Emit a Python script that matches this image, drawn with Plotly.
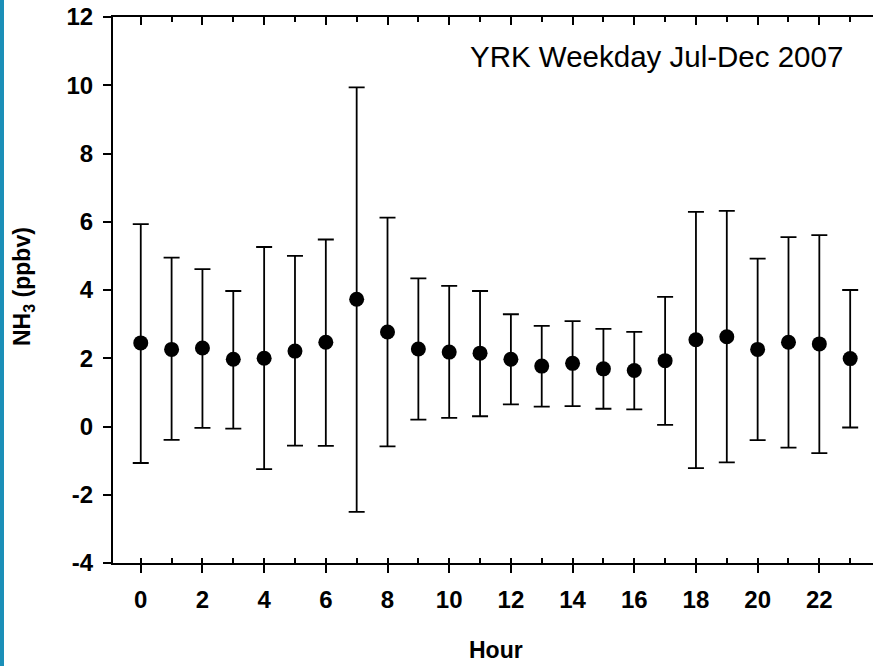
import plotly.graph_objects as go

hours = list(range(24))
nh3_mean = [2.45, 2.26, 2.30, 1.97, 2.00, 2.21, 2.47, 3.73, 2.77, 2.27, 2.18,
            2.15, 1.97, 1.77, 1.85, 1.69, 1.64, 1.93, 2.54, 2.63, 2.26, 2.47, 2.42, 1.99]
nh3_upper = [5.93, 4.95, 4.61, 3.97, 5.26, 5.00, 5.48, 9.94, 6.12, 4.34, 4.12,
             3.97, 3.29, 2.95, 3.09, 2.86, 2.77, 3.80, 6.29, 6.32, 4.92, 5.55, 5.61, 4.00]
nh3_lower = [-1.07, -0.39, -0.04, -0.06, -1.25, -0.56, -0.57, -2.50, -0.58, 0.20, 0.25,
             0.30, 0.65, 0.58, 0.60, 0.52, 0.50, 0.05, -1.22, -1.05, -0.40, -0.62, -0.78, -0.03]
y_ticks = [-4, -2, 0, 2, 4, 6, 8, 10, 12]
x_ticks = [0, 2, 4, 6, 8, 10, 12, 14, 16, 18, 20, 22]

err_plus = [u - m for u, m in zip(nh3_upper, nh3_mean)]
err_minus = [m - l for m, l in zip(nh3_mean, nh3_lower)]

FONT = "Liberation Sans, Arial, sans-serif"
L, T, B = 113, 17, 103
PW, PH = 873 - L, 666 - T - B

fig = go.Figure()
fig.add_trace(go.Scatter(
    x=hours, y=nh3_mean, mode="markers",
    marker=dict(color="black", size=15),
    error_y=dict(type="data", symmetric=False, array=err_plus, arrayminus=err_minus,
                 color="black", thickness=1.8, width=8),
    showlegend=False, hoverinfo="skip",
))
fig.add_trace(go.Scatter(x=[0], y=[0], xaxis="x2", mode="markers",
                         marker=dict(opacity=0), showlegend=False, hoverinfo="skip"))

xr = [-0.90, 23.74]
fig.update_layout(
    width=873, height=666,
    margin=dict(l=L, r=0, t=T, b=B, autoexpand=False),
    paper_bgcolor="white", plot_bgcolor="white",
    font=dict(family=FONT, color="black"),
    xaxis=dict(
        range=xr, tickmode="array", tickvals=x_ticks, ticktext=[str(v) for v in x_ticks],
        ticks="outside", ticklen=8, tickwidth=1.6, tickcolor="black",
        minor=dict(ticks="inside", ticklen=5, tickwidth=1.6, tickcolor="black", dtick=1, tick0=0, showgrid=False),
        showline=True, linecolor="black", linewidth=2, showgrid=False, zeroline=False,
        tickfont=dict(size=24, family=FONT, weight="bold"), ticklabelstandoff=6,
        automargin=False,
    ),
    xaxis2=dict(
        range=xr, overlaying="x", side="top", anchor="y",
        tickmode="linear", tick0=0, dtick=2,
        ticks="inside", ticklen=8, tickwidth=1.6, tickcolor="black",
        minor=dict(ticks="inside", ticklen=5, tickwidth=1.6, tickcolor="black", dtick=1, tick0=0, showgrid=False),
        showline=True, linecolor="black", linewidth=2, showgrid=False, zeroline=False,
        showticklabels=False, automargin=False,
    ),
    yaxis=dict(
        range=[-4, 12], tickmode="array", tickvals=y_ticks, ticktext=[str(v) for v in y_ticks],
        ticks="outside", ticklen=8, tickwidth=1.6, tickcolor="black",
        showline=True, linecolor="black", linewidth=2, showgrid=False, zeroline=False,
        tickfont=dict(size=24, family=FONT, weight="bold"), ticklabelstandoff=5,
        automargin=False,
    ),
    annotations=[
        dict(text="YRK Weekday Jul-Dec 2007", xref="paper", yref="paper",
             x=(845 - L) / PW, y=(T + PH - 57) / PH, xanchor="right", yanchor="middle",
             showarrow=False, font=dict(size=29.5, family=FONT, color="black")),
        dict(text="<b>Hour</b>", xref="paper", yref="paper",
             x=(496 - L) / PW, y=(T + PH - 650) / PH, xanchor="center", yanchor="middle",
             showarrow=False, font=dict(size=23, family=FONT, color="black")),
        dict(text="<b>NH<sub>3</sub> (ppbv)</b>", xref="paper", yref="paper",
             x=(23 - L) / PW, y=(T + PH - 287) / PH, xanchor="center", yanchor="middle",
             textangle=-90, showarrow=False, font=dict(size=23, family=FONT, color="black")),
    ],
    shapes=[dict(
        type="rect", xref="paper", yref="paper",
        x0=-L / PW, x1=(4 - L) / PW, y0=-B / PH, y1=1 + T / PH,
        fillcolor="#1b8fb8", line=dict(width=0), layer="above",
    )],
)

fig.write_html(
    "out.html",
    config={"displayModeBar": False},
    post_script="document.body.style.margin='0px';document.body.style.overflow='hidden';",
)
